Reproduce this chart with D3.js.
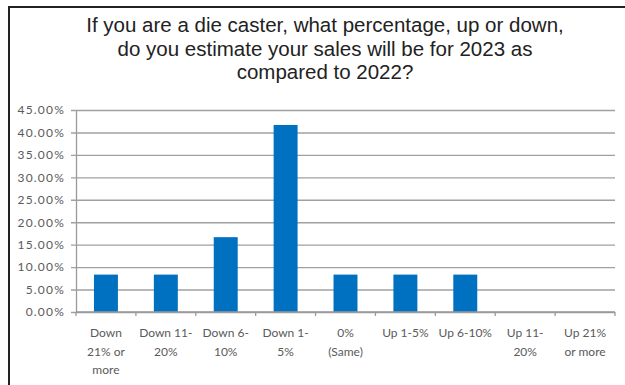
<!DOCTYPE html>
<html>
<head>
<meta charset="utf-8">
<script src="https://cdn.jsdelivr.net/npm/d3@7"></script>
<style>
  html, body { margin: 0; padding: 0; background: #fff; }
  svg { display: block; }
</style>
</head>
<body>
<svg id="chart" width="625" height="385"></svg>
<script>
// Survey answers and the share of respondents for each
const categories = [
  ["Down", "21% or", "more"],
  ["Down 11-", "20%"],
  ["Down 6-", "10%"],
  ["Down 1-", "5%"],
  ["0%", "(Same)"],
  ["Up 1-5%"],
  ["Up 6-10%"],
  ["Up 11-", "20%"],
  ["Up 21%", "or more"]
];
const shares = [8.33, 8.33, 16.67, 41.67, 8.33, 8.33, 8.33, 0, 0];
const yTicks = [0, 5, 10, 15, 20, 25, 30, 35, 40, 45];
const titleLines = [
  "If you are a die caster, what percentage, up or down,",
  "do you estimate your sales will be for 2023 as",
  "compared to 2022?"
];

const svg = d3.select("#chart");
const W = 625, H = 385;
const plot = { left: 76, right: 615, top: 110, bottom: 312 };

// Frame: only the top and left edges are visible
svg.append("path")
  .attr("d", `M9,${H} L9,7 L${W},7`)
  .attr("fill", "none")
  .attr("stroke", "#222")
  .attr("stroke-width", 2);

// Title
const title = svg.append("text")
  .attr("text-anchor", "middle")
  .attr("font-family", "Liberation Sans, Arial, sans-serif")
  .attr("font-size", 20.5)
  .attr("fill", "#222");
titleLines.forEach((t, i) => {
  title.append("tspan").attr("x", 325).attr("y", 32 + i * 23.5).text(t);
});

const keys = categories.map((c, i) => i);
const x = d3.scaleBand().domain(keys).range([plot.left, plot.right]).padding(0);
const y = d3.scaleLinear().domain([0, 45]).range([plot.bottom, plot.top]);

// Horizontal gridlines with short ticks to the left of the axis
const yAxis = d3.axisLeft(y)
  .tickValues(yTicks)
  .tickFormat(d => d3.format(".2f")(d) + "%")
  .tickSizeInner(-(plot.right - plot.left))
  .tickSizeOuter(0)
  .tickPadding(11);
const gy = svg.append("g").attr("transform", `translate(${plot.left},0)`).call(yAxis);
gy.select(".domain").attr("stroke", "#999").attr("stroke-width", 1.3);
gy.selectAll(".tick line")
  .attr("x1", -5)
  .attr("stroke", "#a0a0a0")
  .attr("stroke-width", 1.4);
gy.selectAll(".tick text")
  .attr("font-family", "Lato, sans-serif")
  .attr("font-size", 12)
  .attr("letter-spacing", 1.2)
  .attr("fill", "#5a5a5a");

// Bars
const barW = x.bandwidth() * 0.4;
svg.append("g").selectAll("rect")
  .data(shares)
  .join("rect")
  .attr("x", (d, i) => x(i) + (x.bandwidth() - barW) / 2)
  .attr("y", d => y(d))
  .attr("width", barW)
  .attr("height", d => y(0) - y(d))
  .attr("fill", "#0070C0");

// Category axis with ticks at band boundaries
const gx = svg.append("g").attr("transform", `translate(0,${plot.bottom})`);
gx.append("line")
  .attr("x1", plot.left).attr("x2", plot.right)
  .attr("stroke", "#999").attr("stroke-width", 1.3);
const bounds = keys.map(i => x(i)).concat([plot.right]);
gx.selectAll("line.tk")
  .data(bounds)
  .join("line")
  .attr("class", "tk")
  .attr("x1", d => d).attr("x2", d => d)
  .attr("y1", 0).attr("y2", 4)
  .attr("stroke", "#999").attr("stroke-width", 1.3);

const labels = gx.selectAll("text.cat")
  .data(categories)
  .join("text")
  .attr("class", "cat")
  .attr("text-anchor", "middle")
  .attr("font-family", "Lato, sans-serif")
  .attr("font-size", 12)
  .attr("fill", "#5a5a5a");
labels.each(function(lines, i) {
  const t = d3.select(this);
  lines.forEach((ln, j) => {
    t.append("tspan")
      .attr("x", x(i) + x.bandwidth() / 2)
      .attr("y", 25 + j * 18.5)
      .text(ln);
  });
});
</script>
</body>
</html>
